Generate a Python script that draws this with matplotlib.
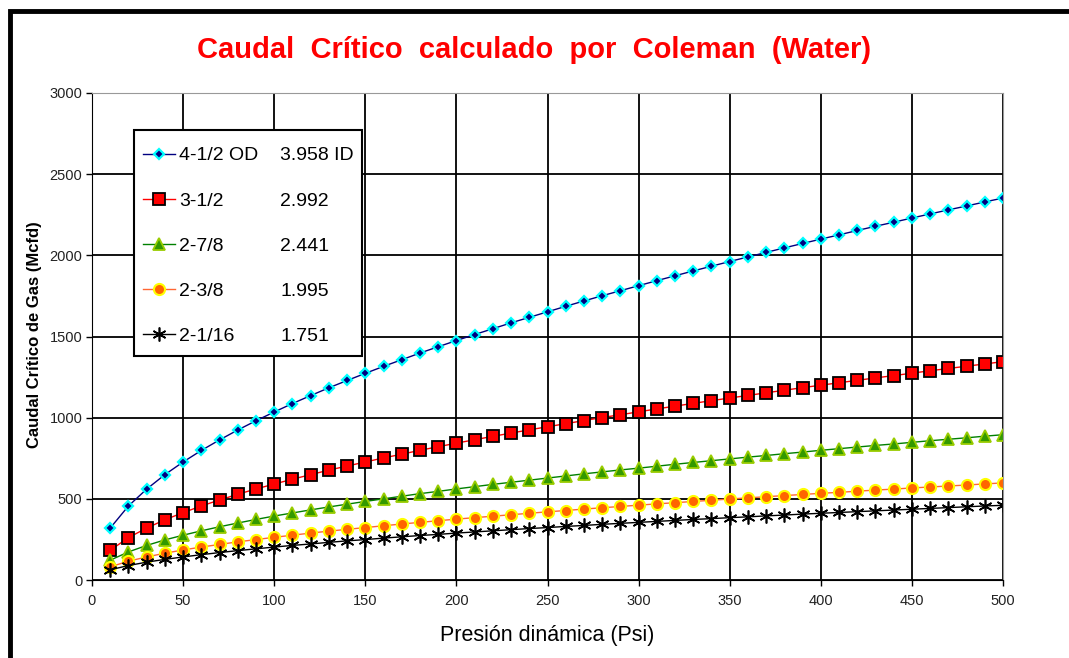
import matplotlib
matplotlib.use("Agg")
import matplotlib.pyplot as plt
from matplotlib.patches import Rectangle

# presion dinamica (psi)
presion = [10, 20, 30, 40, 50, 60, 70, 80, 90, 100,
           110, 120, 130, 140, 150, 160, 170, 180, 190, 200,
           210, 220, 230, 240, 250, 260, 270, 280, 290, 300,
           310, 320, 330, 340, 350, 360, 370, 380, 390, 400,
           410, 420, 430, 440, 450, 460, 470, 480, 490, 500]

q_412 = [320, 456, 560, 649, 727, 798, 863, 924, 981, 1035,
         1087, 1136, 1184, 1229, 1273, 1316, 1357, 1398, 1437, 1475,
         1512, 1548, 1584, 1618, 1652, 1686, 1719, 1751, 1782, 1813,
         1844, 1874, 1904, 1933, 1962, 1990, 2018, 2046, 2073, 2100,
         2126, 2153, 2179, 2204, 2230, 2255, 2280, 2304, 2329, 2353]

q_312 = [183, 261, 320, 371, 415, 456, 493, 528, 561, 591,
         621, 649, 677, 702, 727, 752, 775, 799, 821, 843,
         864, 885, 905, 925, 944, 963, 982, 1001, 1018, 1036,
         1054, 1071, 1088, 1105, 1121, 1137, 1153, 1169, 1185, 1200,
         1215, 1230, 1245, 1259, 1274, 1289, 1303, 1317, 1331, 1345]

q_278 = [122, 173, 213, 247, 276, 303, 328, 351, 373, 394,
         413, 432, 450, 467, 484, 500, 516, 532, 546, 561,
         575, 589, 602, 615, 628, 641, 654, 666, 678, 689,
         701, 713, 724, 735, 746, 757, 767, 778, 788, 799,
         809, 819, 829, 838, 848, 858, 867, 876, 886, 895]

q_238 = [81, 116, 142, 165, 185, 203, 219, 235, 249, 263,
         276, 289, 301, 312, 323, 334, 345, 355, 365, 375,
         384, 393, 402, 411, 420, 428, 437, 445, 453, 461,
         469, 476, 484, 491, 499, 506, 513, 520, 527, 534,
         540, 547, 554, 560, 567, 573, 579, 585, 592, 598]

q_2116 = [63, 89, 110, 127, 142, 156, 169, 181, 192, 203,
          213, 222, 232, 241, 249, 258, 266, 274, 281, 289,
          296, 303, 310, 317, 323, 330, 336, 343, 349, 355,
          361, 367, 373, 378, 384, 389, 395, 400, 406, 411,
          416, 421, 426, 431, 436, 441, 446, 451, 456, 460]

od_labels = ["4-1/2 OD", "3-1/2", "2-7/8", "2-3/8", "2-1/16"]
id_labels = ["3.958 ID", "2.992", "2.441", "1.995", "1.751"]

xticks = [0, 50, 100, 150, 200, 250, 300, 350, 400, 450, 500]
yticks = [0, 500, 1000, 1500, 2000, 2500, 3000]

plt.rcParams["font.family"] = ["Liberation Sans", "DejaVu Sans"]

W, H = 1069, 658
fig = plt.figure(figsize=(W / 100, H / 100), dpi=100)
ax = fig.add_axes([92 / W, 1 - 580 / H, 911 / W, 487 / H])

# outer frame like the excel chart area
fig.patches.append(Rectangle((10 / W, -0.05), 1.2, 1.05 - 11 / H, transform=fig.transFigure,
                             fill=False, edgecolor="black", linewidth=3.5, zorder=0))

ax.plot(presion, q_412, color="#000080", lw=1.0, marker="D", ms=5.5,
        mfc="#000080", mec="#00FFFF", mew=1.6, label=od_labels[0])
ax.plot(presion, q_312, color="#FF0000", lw=1.0, marker="s", ms=9,
        mfc="#FF0000", mec="black", mew=1.3, label=od_labels[1])
ax.plot(presion, q_278, color="#008000", lw=1.0, marker="^", ms=8,
        mfc="#339900", mec="#99CC00", mew=1.3, label=od_labels[2])
ax.plot(presion, q_238, color="#FF6633", lw=1.0, marker="o", ms=8,
        mfc="#FF6600", mec="#FFFF00", mew=1.5, label=od_labels[3])
ax.plot(presion, q_2116, color="black", lw=1.0, marker=(6, 2, 0), ms=10,
        mfc="black", mec="black", mew=1.2, label=od_labels[4])

ax.set_xlim(0, 500)
ax.set_ylim(0, 3000)
ax.set_xticks(xticks)
ax.set_yticks(yticks)
ax.grid(True, color="black", lw=1.3)
ax.set_axisbelow(True)
for s in ["top", "right"]:
    ax.spines[s].set_color("#999999")
for s in ["left", "bottom"]:
    ax.spines[s].set_color("black")
ax.tick_params(direction="out", length=4, width=1, color="black", pad=3,
               labelsize=10.5, labelcolor="#222222")
ax.tick_params(axis="x", pad=6)

ax.set_xlabel("Presión dinámica (Psi)", fontsize=15.5, labelpad=12)
fig.text(35 / W, 1 - 335 / H, "Caudal Crítico de Gas (Mcfd)", rotation=90,
         ha="center", va="center", fontsize=12, fontweight="bold")

fig.text(0.5, 1 - 50 / H, "Caudal  Crítico  calculado  por  Coleman  (Water)",
         ha="center", va="center", color="red", fontsize=21, fontweight="bold")

# legend: box drawn by hand, entries placed inside it
box = Rectangle((134 / W, 1 - 356 / H), 228 / W, 226 / H,
                transform=fig.transFigure, facecolor="white",
                edgecolor="black", linewidth=1.5, zorder=4, clip_on=False)
ax.add_artist(box)
leg = ax.legend(loc="upper left", bbox_to_anchor=(135 / W, 1 - 139 / H),
                bbox_transform=fig.transFigure, fontsize=14, frameon=False,
                borderpad=0.4, labelspacing=1.42, handlelength=1.65,
                handletextpad=0.2, borderaxespad=0)
leg.set_zorder(5)
fig.canvas.draw()
for t, s in zip(leg.get_texts(), id_labels):
    tb = t.get_window_extent()
    yc = (tb.y0 + tb.y1) / 2
    fig.text(280 / W, yc / fig.bbox.height, s, ha="left", va="center",
             fontsize=14, zorder=10)

fig.savefig("out.png", dpi=100)
